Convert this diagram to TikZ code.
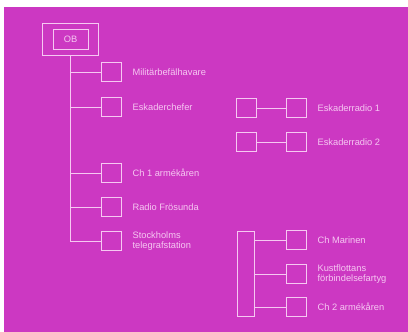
\documentclass[tikz,border=0pt]{standalone}
\usepackage{fontspec}
\setmainfont{Liberation Sans}
\usetikzlibrary{positioning}
\definecolor{bg}{RGB}{204,56,194}
\definecolor{ln}{RGB}{246,200,242}

\begin{document}
\begin{tikzpicture}[x=1pt,y=-1pt,node distance=11pt, every node/.style={font=\fontsize{9.3}{9.5}\selectfont,text=ln}]
\tikzstyle{sq}=[draw=ln,line width=0.8pt,minimum width=20pt,minimum height=19pt,inner sep=0pt]
\tikzstyle{lbl}=[align=left,inner sep=0pt]
\tikzstyle{wire}=[draw=ln,line width=0.8pt]
\fill[white] (0,0) rectangle (408,332);
\fill[bg] (4,7) rectangle (408,332);
\useasboundingbox (0,0) rectangle (408,332);
% OB
\node[sq,minimum width=56pt,minimum height=32pt] (obframe) at (70,39) {};
\node[sq,minimum width=35pt,minimum height=20pt] (ob) at (70.5,39) {OB};
% left column
\node[sq] (mbh) at (111,72) {};
\node[lbl,right=of mbh] (mbhl) {Militärbefälhavare};
\node[sq] (esk) at (111,107) {};
\node[lbl,right=of esk] (eskl) {Eskaderchefer};
\node[sq] (ch1) at (111,173) {};
\node[lbl,right=of ch1] (ch1l) {Ch 1 armékåren};
\node[sq] (rf) at (111,207) {};
\node[lbl,right=of rf] (rfl) {Radio Frösunda};
\node[sq] (sth) at (111,241) {};
\node[lbl,right=of sth] (sthl) {Stockholms\\telegrafstation};
% eskaderradio
\node[sq] (er1a) at (246,108) {};
\node[sq] (er1b) at (296,108) {};
\node[lbl,right=of er1b] (er1l) {Eskaderradio 1};
\node[sq] (er2a) at (246,142) {};
\node[sq] (er2b) at (296,142) {};
\node[lbl,right=of er2b] (er2l) {Eskaderradio 2};
% right bottom
\node[sq,minimum width=17pt,minimum height=85pt] (bar) at (245.5,273.5) {};
\node[sq] (chm) at (296,240) {};
\node[lbl,right=of chm] (chml) {Ch Marinen};
\node[sq] (kf) at (296,274) {};
\node[lbl,right=of kf] (kfl) {Kustflottans\\förbindelsefartyg};
\node[sq] (ch2) at (296,307) {};
\node[lbl,right=of ch2] (ch2l) {Ch 2 armékåren};
% lines
\draw[wire] (obframe.south) -- (obframe.south |- sth);
\foreach \n in {mbh,esk,ch1,rf,sth}
  \draw[wire] (obframe.south |- \n) -- (\n.west);
\draw[wire] (er1a) -- (er1b);
\draw[wire] (er2a) -- (er2b);
\foreach \n in {chm,kf,ch2}
  \draw[wire] (bar.east |- \n) -- (\n.west);
\end{tikzpicture}
\end{document}
